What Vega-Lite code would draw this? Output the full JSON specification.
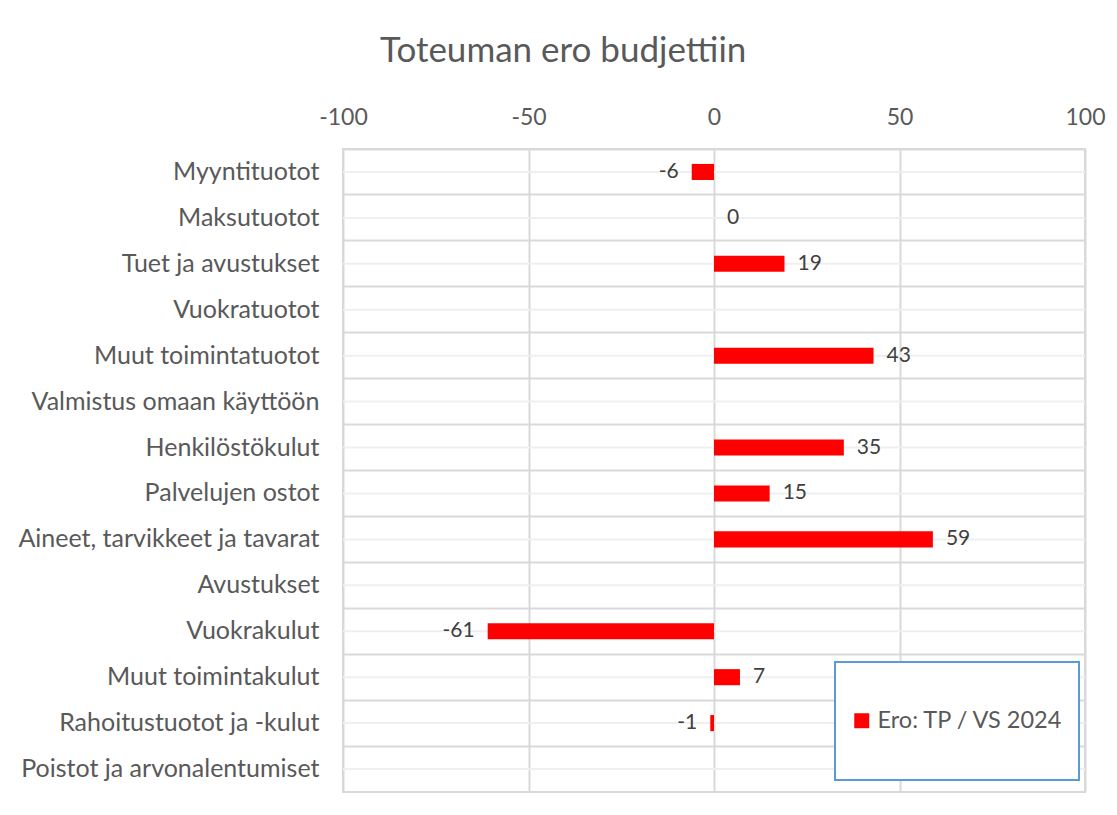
{
  "$schema": "https://vega.github.io/schema/vega-lite/v6.json",
  "width": 742,
  "height": 643,
  "autosize": {"type": "none"},
  "padding": {"left": 343, "top": 149, "right": 32, "bottom": 23},
  "background": "white",
  "title": {"text": "Toteuman ero budjettiin", "anchor": "start", "frame": "group", "dx": 37, "offset": 37, "fontSize": 35, "font": "Lato", "fontWeight": "normal", "color": "#595959"},
  "config": {
    "locale": {"number": {"decimal": ".", "thousands": ",", "grouping": [3], "currency": ["", ""], "minus": "-"}},
    "view": {"stroke": "#d9d9d9", "strokeWidth": 2},
    "font": "Lato"
  },
  "data": {"values": [
    {"category": "Myyntituotot", "value": -6, "series": "Ero: TP / VS 2024"},
    {"category": "Maksutuotot", "value": 0, "series": "Ero: TP / VS 2024"},
    {"category": "Tuet ja avustukset", "value": 19, "series": "Ero: TP / VS 2024"},
    {"category": "Vuokratuotot", "value": null, "series": "Ero: TP / VS 2024"},
    {"category": "Muut toimintatuotot", "value": 43, "series": "Ero: TP / VS 2024"},
    {"category": "Valmistus omaan käyttöön", "value": null, "series": "Ero: TP / VS 2024"},
    {"category": "Henkilöstökulut", "value": 35, "series": "Ero: TP / VS 2024"},
    {"category": "Palvelujen ostot", "value": 15, "series": "Ero: TP / VS 2024"},
    {"category": "Aineet, tarvikkeet ja tavarat", "value": 59, "series": "Ero: TP / VS 2024"},
    {"category": "Avustukset", "value": null, "series": "Ero: TP / VS 2024"},
    {"category": "Vuokrakulut", "value": -61, "series": "Ero: TP / VS 2024"},
    {"category": "Muut toimintakulut", "value": 7, "series": "Ero: TP / VS 2024"},
    {"category": "Rahoitustuotot ja -kulut", "value": -1, "series": "Ero: TP / VS 2024"},
    {"category": "Poistot ja arvonalentumiset", "value": null, "series": "Ero: TP / VS 2024"}
  ]},
  "encoding": {
    "y": {
      "field": "category", "type": "nominal", "sort": null,
      "scale": {"paddingInner": 0, "paddingOuter": 0},
      "axis": {"title": null, "ticks": false, "domain": false, "grid": true, "bandPosition": 0, "gridColor": "#d9d9d9", "gridWidth": 2, "labelFontSize": 25, "labelColor": "#595959", "labelPadding": 24, "labelLimit": 0, "labelFont": "Lato"}
    }
  },
  "layer": [
    {"mark": {"type": "rule", "color": "#efefef", "strokeWidth": 2}, "encoding": {}},
    {
      "mark": {"type": "bar", "height": {"band": 0.35}, "color": "#ff0000"},
      "encoding": {
        "x": {"field": "value", "type": "quantitative",
          "scale": {"domain": [-100, 100], "nice": false, "zero": false},
          "axis": {"orient": "top", "title": null, "values": [-100, -50, 0, 50, 100], "grid": true, "gridColor": "#d9d9d9", "gridWidth": 2, "ticks": false, "domain": false, "labelFontSize": 23, "labelColor": "#595959", "labelPadding": 20, "labelFont": "Lato", "labelFlush": false}},
        "color": {"field": "series", "type": "nominal",
          "scale": {"domain": [" ", "Ero: TP / VS 2024", "  "], "range": ["rgba(0,0,0,0)", "#ff0000", "rgba(0,0,0,0)"]},
          "legend": {"orient": "none", "legendX": 492, "legendY": 513, "title": null, "strokeColor": "#5b9bd5", "fillColor": "white", "padding": 15, "rowPadding": 7, "symbolType": "square", "symbolSize": 225, "symbolStrokeWidth": 0, "labelFontSize": 23.5, "labelOffset": 4, "labelLimit": 0, "labelColor": "#595959", "labelFont": "Lato",
            "encode": {"legend": {"update": {"strokeWidth": {"value": 2}}}}}}
      }
    },
    {
      "transform": [{"filter": "isValid(datum.value) && datum.value >= 0"}],
      "mark": {"type": "text", "align": "left", "dx": 13, "fontSize": 21, "color": "#404040", "font": "Lato"},
      "encoding": {"x": {"field": "value", "type": "quantitative"}, "text": {"field": "value", "type": "quantitative"}}
    },
    {
      "transform": [{"filter": "isValid(datum.value) && datum.value < 0"}],
      "mark": {"type": "text", "align": "right", "dx": -13, "fontSize": 21, "color": "#404040", "font": "Lato"},
      "encoding": {"x": {"field": "value", "type": "quantitative"}, "text": {"field": "value", "type": "quantitative"}}
    }
  ]
}
